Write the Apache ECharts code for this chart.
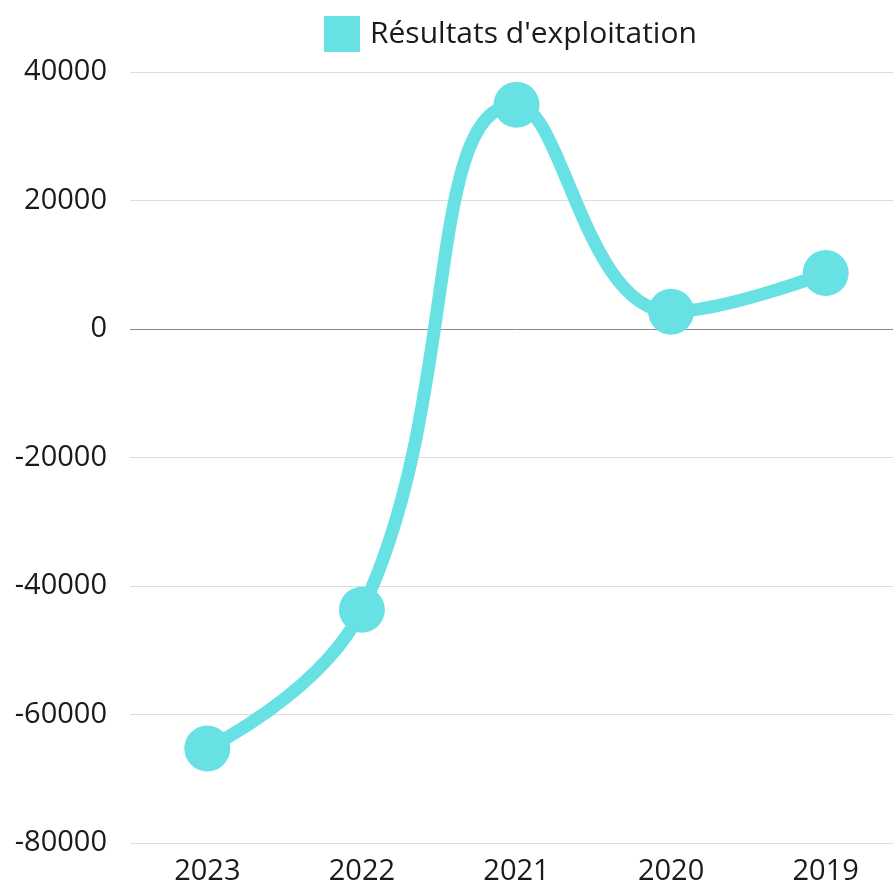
<html>
<head>
    <meta charset="utf-8">
    <title>Résultats</title>
    <script src="https://cdn.jsdelivr.net/npm/echarts@6.0.0/dist/echarts.min.js"></script>
    <style>
        body { margin: 0; background: #fff; overflow: hidden; }
    </style>
</head>
<body>
    <!-- la grille déborde à droite dans l'original, on élargit le conteneur -->
    <div id="chartmain" style="width:903px; height:888px;"></div>

    <script type="text/javascript">
        // données
        var annees = ['2023', '2022', '2021', '2020', '2019'];
        var resultats = [-65300, -43700, 34900, 2700, 8700];
        var yTicks = [-80000, -60000, -40000, -20000, 0, 20000, 40000];

        var myChart = echarts.init(document.getElementById('chartmain'));

        myChart.setOption({
            animation: false,
            textStyle: { fontFamily: 'Open Sans' },
            legend: {
                top: 11,
                left: 319,
                itemWidth: 36,
                itemHeight: 36,
                icon: 'rect',
                textStyle: { fontSize: 30, color: '#1a1a1a', fontFamily: 'Open Sans', padding: [0, 0, 0, 5] },
                data: ["Résultats d'exploitation"]
            },
            grid: {
                left: 130,
                right: 0,
                top: 72,
                bottom: 45,
                containLabel: false
            },
            xAxis: {
                type: 'category',
                data: annees,
                boundaryGap: true,
                axisLine: { show: false },
                axisTick: { show: false },
                axisLabel: { fontSize: 29, color: '#1a1a1a', margin: 14, fontFamily: 'Open Sans' }
            },
            yAxis: {
                type: 'value',
                min: yTicks[0],
                max: yTicks[yTicks.length - 1],
                interval: 20000,
                axisLine: { show: false },
                axisTick: { show: false },
                axisLabel: {
                    fontSize: 29, color: '#1a1a1a', margin: 23, fontFamily: 'Open Sans',
                    formatter: function (v) { return String(v); }
                },
                splitLine: {
                    lineStyle: {
                        width: 1,
                        color: ['#dcdcdc', '#dcdcdc', '#dcdcdc', '#dcdcdc', '#888', '#dcdcdc', '#dcdcdc']
                    }
                }
            },
            series: [
                {
                    name: "Résultats d'exploitation",
                    type: 'line',
                    smooth: 0.45,
                    data: resultats,
                    symbol: 'circle',
                    symbolSize: 46,
                    itemStyle: { color: '#68e1e5' },
                    lineStyle: { width: 13, color: '#68e1e5' }
                }
            ]
        });
    </script>
</body>
</html>
